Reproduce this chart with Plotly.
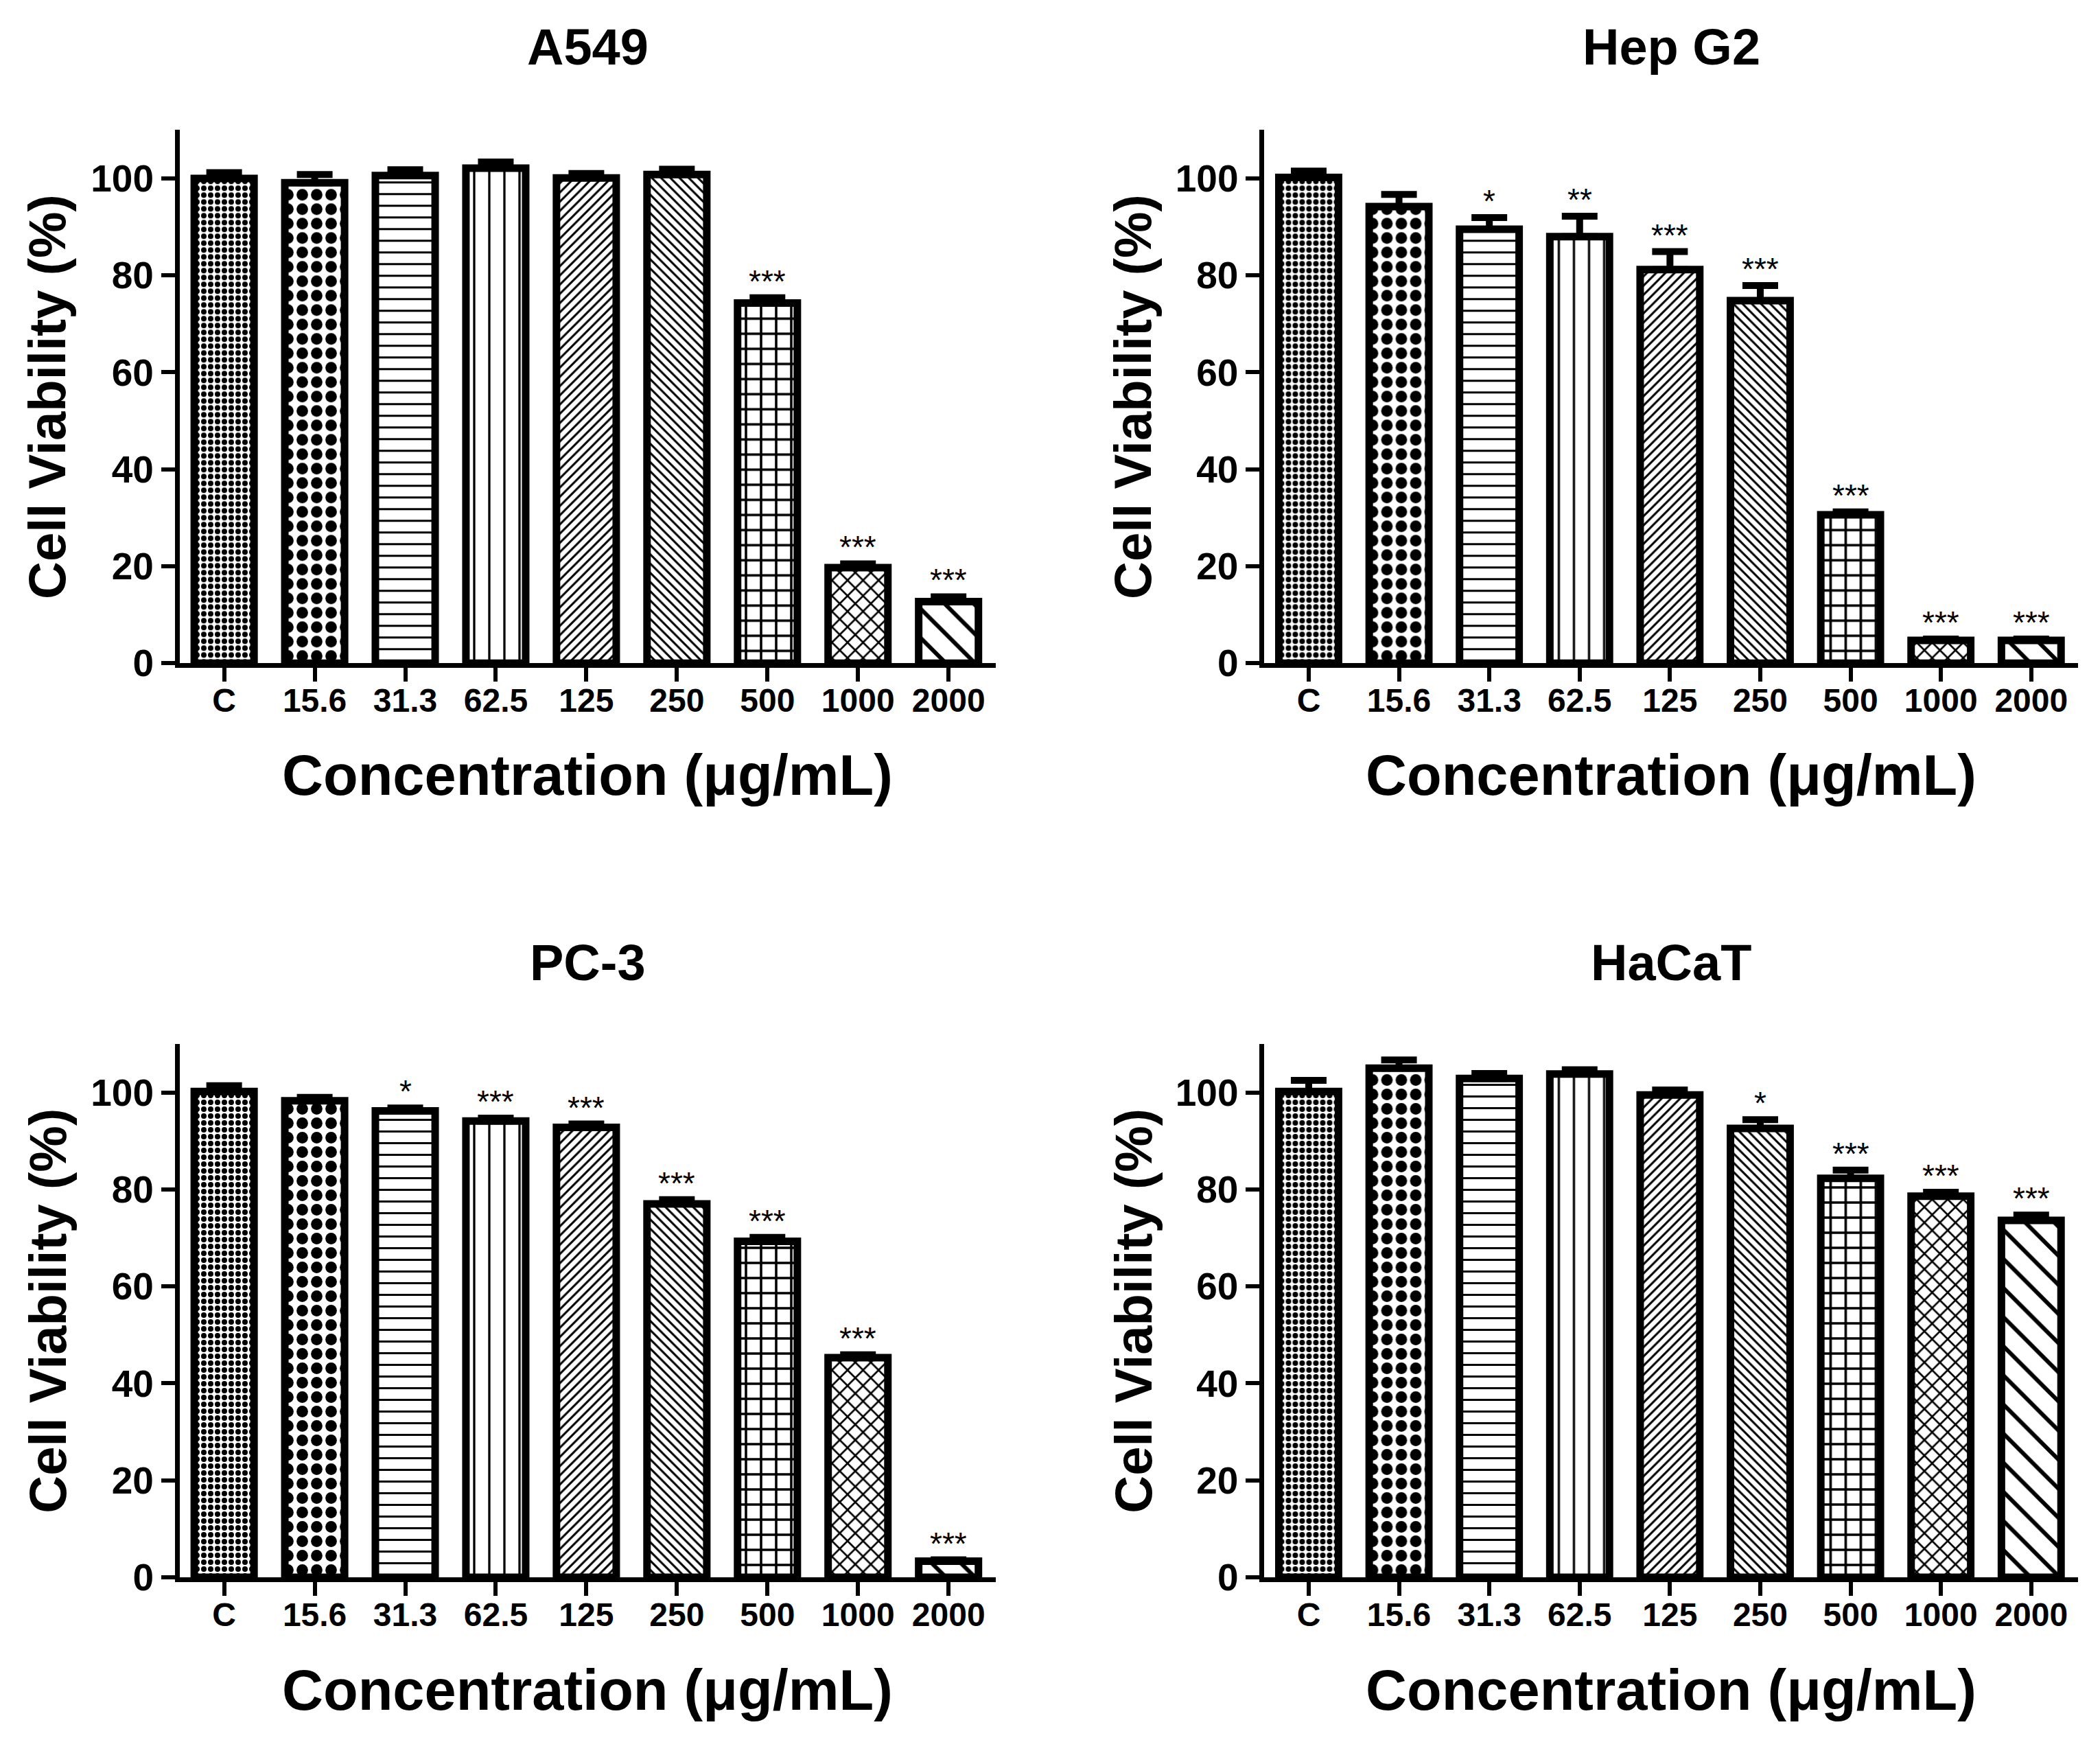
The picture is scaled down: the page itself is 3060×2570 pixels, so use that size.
import plotly.graph_objects as go
from plotly.subplots import make_subplots

# === Data ===
concentrations = ["C", "15.6", "31.3", "62.5", "125", "250", "500", "1000", "2000"]

a549_mean = [100.0, 99.1, 100.6, 102.1, 100.1, 100.8, 74.3, 19.7, 12.7]
a549_sem = [1.2, 1.7, 1.2, 1.3, 0.9, 1.1, 1.1, 0.8, 1.0]
a549_sig = ["", "", "", "", "", "", "***", "***", "***"]

hepg2_mean = [100.2, 94.2, 89.5, 88.0, 81.2, 74.8, 30.6, 4.7, 4.7]
hepg2_sem = [1.3, 2.5, 2.4, 4.2, 3.7, 3.1, 0.6, 0.3, 0.3]
hepg2_sig = ["", "", "*", "**", "***", "***", "***", "***", "***"]

pc3_mean = [100.2, 98.3, 96.2, 94.1, 92.8, 77.0, 69.3, 45.3, 3.3]
pc3_sem = [1.2, 0.7, 0.6, 0.6, 0.7, 0.9, 0.8, 0.6, 0.3]
pc3_sig = ["", "", "*", "***", "***", "***", "***", "***", "***"]

hacat_mean = [100.2, 105.0, 102.9, 103.8, 99.5, 92.6, 82.3, 78.6, 73.6]
hacat_sem = [2.3, 1.7, 1.0, 0.9, 1.0, 1.8, 1.7, 0.8, 1.1]
hacat_sig = ["", "", "", "", "", "*", "***", "***", "***"]

panels = [
    ("A549", a549_mean, a549_sem, a549_sig, 1, 1),
    ("Hep G2", hepg2_mean, hepg2_sem, hepg2_sig, 1, 2),
    ("PC-3", pc3_mean, pc3_sem, pc3_sig, 2, 1),
    ("HaCaT", hacat_mean, hacat_sem, hacat_sig, 2, 2),
]

# === Hatch styles, one per concentration ===
pat_shapes = [".", ".", "-", "|", "/", "\\", "+", "x", "\\"]
pat_sizes = [10, 21, 17, 22, 9.5, 9.5, 22, 16, 30]
pat_solid = [0.5, 0.5, 0.18, 0.15, 0.32, 0.32, 0.3, 0.3, 0.2]

FONT = "Liberation Sans, Arial, sans-serif"

# === Panel geometry (paper fractions) ===
x_dom = {1: [0.0830, 0.4715], 2: [0.5995, 0.9870]}
y_dom = {1: [0.6226, 0.9286], 2: [0.0981, 0.4041]}
title_y = {1: 0.9763, 2: 0.4506}
xtitle_y = {1: 0.5584, 2: 0.0331}
ytitle_x = {1: 0.0200, 2: 0.5370}

fig = make_subplots(rows=2, cols=2)
annotations = []

for i, (name, mean, sem, sig, r, c) in enumerate(panels):
    fig.add_trace(go.Bar(
        x=concentrations,
        y=mean,
        width=0.66,
        marker=dict(
            color="black",
            line=dict(color="black", width=11),
            pattern=dict(
                shape=pat_shapes, size=pat_sizes, solidity=pat_solid,
                fgcolor="black", bgcolor="white", fillmode="replace",
            ),
        ),
        error_y=dict(
            type="data", array=sem, arrayminus=[0] * len(sem), symmetric=False,
            color="black", thickness=10, width=26,
        ),
        showlegend=False,
    ), row=r, col=c)

    # significance stars above the error caps (x given as category index)
    axn = "" if i == 0 else str(i + 1)
    for k, (m, e, s) in enumerate(zip(mean, sem, sig)):
        if s:
            annotations.append(dict(
                x=k, y=m + e, xref="x" + axn, yref="y" + axn,
                text=s, showarrow=False, yanchor="bottom", yshift=-4,
                font=dict(family=FONT, size=46, color="black"),
            ))

    xc = sum(x_dom[c]) / 2
    yc = sum(y_dom[r]) / 2
    annotations.append(dict(
        x=xc, y=title_y[r], xref="paper", yref="paper", text=name,
        showarrow=False, xanchor="center", yanchor="middle",
        font=dict(family=FONT, size=74, color="black", weight="bold"),
    ))
    annotations.append(dict(
        x=xc, y=xtitle_y[r], xref="paper", yref="paper",
        text="Concentration (\u03bcg/mL)",
        showarrow=False, xanchor="center", yanchor="middle",
        font=dict(family=FONT, size=83, color="black", weight="bold"),
    ))
    annotations.append(dict(
        x=ytitle_x[c], y=yc, xref="paper", yref="paper",
        text="Cell Viability (%)", textangle=-90,
        showarrow=False, xanchor="center", yanchor="middle",
        font=dict(family=FONT, size=76, color="black", weight="bold"),
    ))

    fig.update_xaxes(
        domain=x_dom[c], range=[-0.49, 8.52], type="category",
        showline=True, linecolor="black", linewidth=7,
        ticks="outside", ticklen=20, tickwidth=6, tickcolor="black",
        ticklabelstandoff=-14,
        showgrid=False, zeroline=False,
        tickfont=dict(family=FONT, size=48, color="black", weight="bold"),
        row=r, col=c,
    )
    fig.update_yaxes(
        domain=y_dom[r], range=[0, 110], tickvals=[0, 20, 40, 60, 80, 100],
        showline=True, linecolor="black", linewidth=7,
        ticks="outside", ticklen=20, tickwidth=6, tickcolor="black",
        showgrid=False, zeroline=False,
        tickfont=dict(family=FONT, size=55, color="black", weight="bold"),
        row=r, col=c,
    )

fig.update_layout(
    width=3060, height=2570,
    margin=dict(l=0, r=0, t=0, b=0),
    paper_bgcolor="white", plot_bgcolor="white",
    annotations=annotations,
)

fig.write_html("out.html")
